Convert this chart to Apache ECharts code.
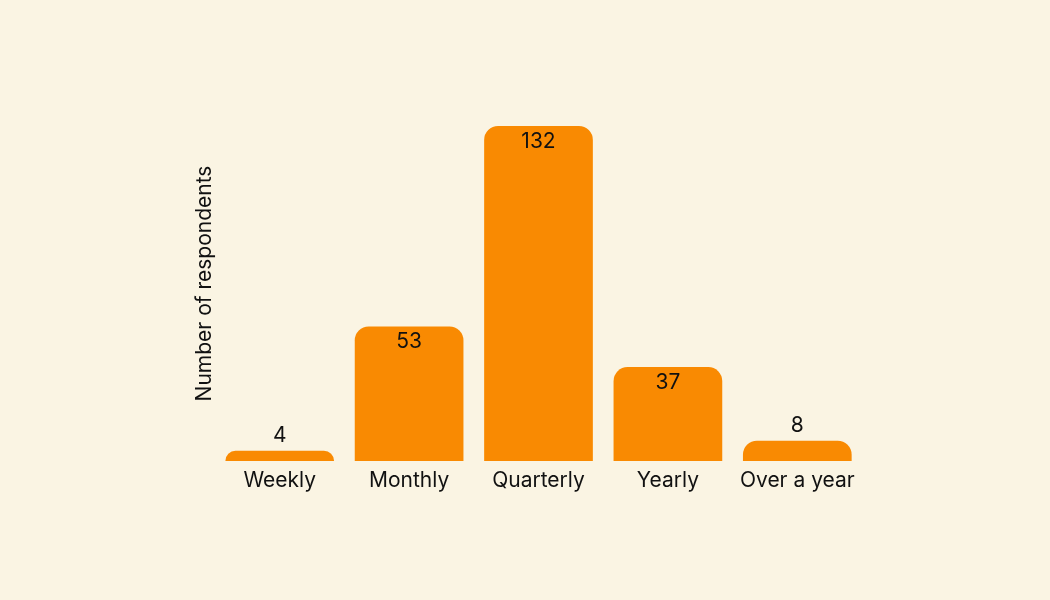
<!DOCTYPE html>
<html>
<head>
<meta charset="utf-8">
<script src="https://cdn.jsdelivr.net/npm/echarts@6/dist/echarts.min.js"></script>
<style>
  html, body { margin: 0; padding: 0; background: #FAF4E3; }
  #chart { width: 1050px; height: 600px; }
</style>
</head>
<body>
<div id="chart"></div>
<script>
// 类目与数值
const categories = ['Weekly', 'Monthly', 'Quarterly', 'Yearly', 'Over a year'];
const respondents = [4, 53, 132, 37, 8];

const chart = echarts.init(document.getElementById('chart'));

const option = {
    backgroundColor: '#FAF4E3',
    textStyle: { fontFamily: 'Inter, sans-serif' },
    grid: { left: 215, width: 647, top: 126, height: 335 },
    xAxis: {
        type: 'category',
        data: categories,
        axisLine: { show: false },
        axisTick: { show: false },
        axisLabel: { color: '#111', fontSize: 21, margin: 9, interval: 0 }
    },
    yAxis: {
        type: 'value',
        min: 0,
        max: 132,
        name: 'Number of respondents',
        nameLocation: 'middle',
        nameGap: 0,
        nameTextStyle: { color: '#111', fontSize: 21, padding: [0, 0, 0, 20] },
        axisLabel: { show: false },
        axisLine: { show: false },
        axisTick: { show: false },
        splitLine: { show: false }
    },
    series: [{
        type: 'bar',
        barCategoryGap: '16%',
        data: respondents.map(v => ({
            value: v,
            label: { position: v < 20 ? 'top' : 'insideTop', distance: 5 }
        })),
        itemStyle: { color: '#F98A02', borderRadius: [14, 14, 0, 0] },
        label: { show: true, color: '#111', fontSize: 21 }
    }]
};

chart.setOption(option);
window.addEventListener('resize', () => chart.resize());
</script>
</body>
</html>
